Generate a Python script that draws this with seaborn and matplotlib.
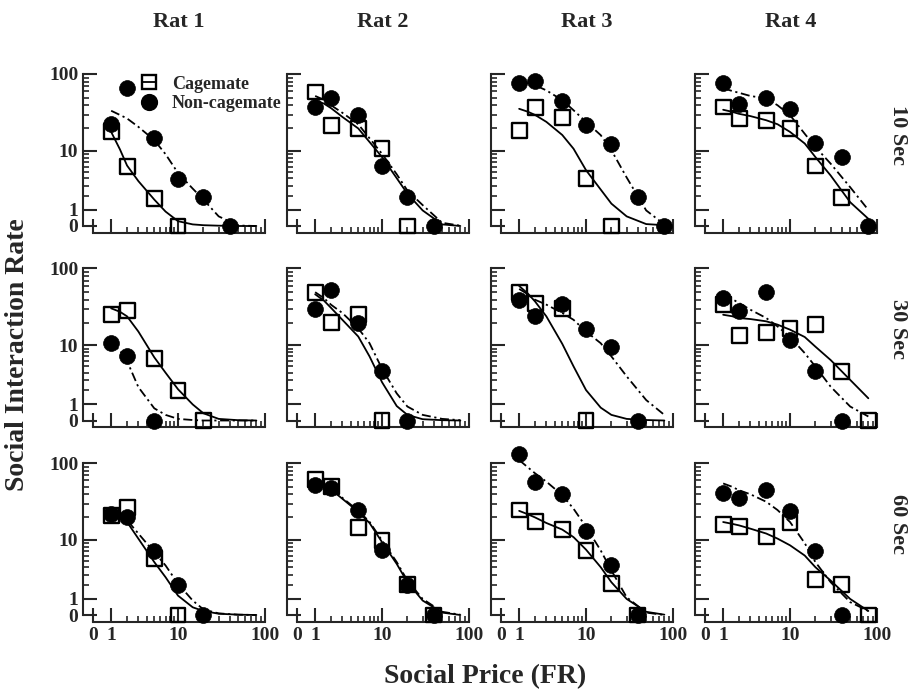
"""
Demand curves for social interaction: cagemate vs non-cagemate, 4 rats x 3 delays.
"""
import numpy as np
import pandas as pd
import matplotlib
matplotlib.use("Agg")
import matplotlib.pyplot as plt
from matplotlib.ticker import FixedLocator, FixedFormatter, NullFormatter
from matplotlib.lines import Line2D
import seaborn as sns

# -----------------------------
# data
# -----------------------------
RATS = ["Rat 1", "Rat 2", "Rat 3", "Rat 4"]
DELAYS = ["10 Sec", "30 Sec", "60 Sec"]

# FR steps used in the sessions; each series runs until responding stopped
FR_STEPS = [1, 2, 5, 10, 20, 40, 80]
# FR values at which the fitted curves were read
CURVE_FR = [1, 1.5, 2, 3, 5, 7, 10, 15, 20, 30, 50, 80]

# observed interaction rates, one list per rat
CAGE_10 = [[18, 6, 1.8, 0], [59, 22, 20, 10.7, 0],
           [19, 37, 28, 3.9, 0], [38, 27, 25.6, 20, 6.1, 1.9]]
NONCAGE_10 = [[23, 67, 15, 3.9, 1.9, 0], [38, 49, 30, 6.1, 1.9, 0],
              [76, 81, 46, 22, 12.6, 1.9, 0], [76, 42, 49, 36, 12.8, 8.2, 0]]
CAGE_30 = [[25.6, 29, 6.6, 2.0, 0], [49, 20, 26, 0],
           [50, 36, 31, 0], [35, 13.5, 15, 17, 19, 4.2, 0]]
NONCAGE_30 = [[10.7, 7, 0], [30, 53, 20, 4.3, 0],
              [40, 25, 35, 16.6, 9.6, 0], [42, 29, 51, 12, 4.2, 0]]
CAGE_60 = [[21, 27, 5.4, 0], [62, 50, 14.7, 9.9, 2.0, 0],
           [25, 17.8, 14, 7.1, 2.1, 0], [16, 15, 11, 17, 2.5, 2.0, 0]]
NONCAGE_60 = [[22, 20, 7, 2.0, 0], [52, 47.5, 25, 7.3, 2.0, 0],
              [130, 58, 40, 13, 4.4, 0], [41, 36, 45, 24, 7, 0]]

# fitted demand curves at CURVE_FR, one list per rat
FIT_CAGE_10 = [
    [18, 10.5, 6.2, 3.6, 1.7, 0.9, 0.3, 0.1, 0.05, 0.02, 0, 0],
    [46, 42, 36.7, 28.3, 20, 13.2, 8.2, 4.0, 2.2, 0.97, 0.1, 0],
    [36, 33, 30, 24.4, 16.4, 10.7, 5.3, 2.6, 1.4, 0.6, 0.12, 0.05],
    [35, 33, 31, 29, 25.6, 22.7, 18, 12.6, 8.2, 4.4, 1.5, 0.45],
]
FIT_NONCAGE_10 = [
    [34, 30, 27, 21, 14, 9, 4.8, 2.7, 1.7, 0.6, 0.03, 0],
    [52.6, 47, 40, 32, 22.7, 14.8, 9.1, 4.6, 2.5, 1.3, 0.2, 0.02],
    [80, 76, 72, 62, 46.5, 34.5, 24.4, 16.3, 10.2, 4.1, 0.97, 0.1],
    [66, 61, 57.7, 52.6, 48.9, 40, 29.8, 17, 11.3, 6.6, 2.85, 1.0],
]
FIT_CAGE_30 = [
    [31, 28, 24.4, 15.4, 6.8, 4.0, 2.1, 1.0, 0.45, 0.1, 0.02, 0],
    [47, 39, 31.4, 22, 13.2, 7, 2.8, 0.9, 0.35, 0.08, 0.02, 0],
    [60, 48, 38, 24.4, 10.5, 5.0, 2.03, 0.8, 0.35, 0.1, 0.03, 0],
    [25.6, 24.5, 23.2, 22.5, 21, 19, 16.3, 13, 9.6, 6.2, 3.06, 1.39],
]
FIT_NONCAGE_30 = [
    [10.7, 8.5, 6, 2.3, 0.76, 0.35, 0.1, 0.03, 0, 0, 0, 0],
    [50, 42, 34.5, 27, 17, 10.7, 4.6, 1.75, 0.87, 0.35, 0.1, 0.02],
    [55, 47, 40, 34.6, 27, 22, 15.4, 10.7, 7, 3.5, 1.27, 0.35],
    [46.5, 41, 36.3, 29.8, 23.2, 18, 13, 7.8, 4.96, 2.34, 0.87, 0.25],
]
FIT_CAGE_60 = [
    [22, 19.5, 17.4, 10.4, 4.8, 2.75, 1.2, 0.48, 0.25, 0.08, 0.02, 0],
    [57, 51, 46, 35, 23.7, 16.9, 9.3, 4.5, 2.24, 0.9, 0.15, 0],
    [24.4, 22, 20, 16.9, 13.8, 10.9, 7.3, 4, 2.24, 1.0, 0.2, 0.02],
    [17.4, 16.5, 15.7, 14.2, 12.2, 10.4, 8.4, 6, 4.0, 2.4, 1.0, 0.25],
]
FIT_NONCAGE_60 = [
    [22, 20.5, 18.4, 12.2, 6.7, 4.26, 2.1, 0.9, 0.35, 0.1, 0.02, 0],
    [58, 52, 47, 36, 24.5, 17.5, 9.8, 4.8, 2.4, 1.0, 0.2, 0.02],
    [109, 88, 74, 58, 39, 26, 15, 7.1, 3.55, 1.1, 0.15, 0],
    [55, 50, 45, 40, 32, 25, 17.4, 9, 4.8, 2.24, 0.8, 0.25],
]

TICK_VALUES = [0, 1, 10, 100]
TICK_LABELS = ["0", "1", "10", "100"]
MINOR_VALUES = [2, 3, 4, 5, 6, 7, 8, 9, 20, 30, 40, 50, 60, 70, 80, 90]


# -----------------------------
# long-form tables
# -----------------------------
def build_tables():
    obs, fit = [], []
    per_delay = {
        "10 Sec": (CAGE_10, NONCAGE_10, FIT_CAGE_10, FIT_NONCAGE_10),
        "30 Sec": (CAGE_30, NONCAGE_30, FIT_CAGE_30, FIT_NONCAGE_30),
        "60 Sec": (CAGE_60, NONCAGE_60, FIT_CAGE_60, FIT_NONCAGE_60),
    }
    for delay, (cage, non, fcage, fnon) in per_delay.items():
        for i, rat in enumerate(RATS):
            for group, vals in (("Cagemate", cage[i]), ("Non-cagemate", non[i])):
                for fr, v in zip(FR_STEPS, vals):
                    obs.append((delay, rat, group, fr, v))
            for group, vals in (("Cagemate", fcage[i]), ("Non-cagemate", fnon[i])):
                for fr, v in zip(CURVE_FR, vals):
                    fit.append((delay, rat, group, fr, v))
    cols = ["delay", "rat", "group", "fr", "rate"]
    return pd.DataFrame(obs, columns=cols), pd.DataFrame(fit, columns=cols)


# log(x + 1) axis with the zero squeezed in just below 1
G0 = 0.1
LOG2 = np.log10(2.0)


def fwd(v):
    v = np.asarray(v, dtype=float)
    lin = G0 + (LOG2 - G0) * v
    lg = np.log10(np.maximum(v, 1.0) + 1.0)
    return np.where(v >= 1.0, lg, lin)


def inv(g):
    g = np.asarray(g, dtype=float)
    lin = (g - G0) / (LOG2 - G0)
    lg = 10.0 ** np.clip(g, LOG2, 6) - 1.0
    return np.where(g >= LOG2, lg, lin)


def style_axis(ax, show_x, show_y):
    for scale in (ax.set_xscale, ax.set_yscale):
        scale("function", functions=(fwd, inv))
    ax.set_xlim(0, 100)
    ax.set_ylim(0, 100)
    for axis, show in ((ax.xaxis, show_x), (ax.yaxis, show_y)):
        axis.set_major_locator(FixedLocator(TICK_VALUES))
        axis.set_minor_locator(FixedLocator(MINOR_VALUES))
        axis.set_minor_formatter(NullFormatter())
        if show:
            axis.set_major_formatter(FixedFormatter(TICK_LABELS))
        else:
            axis.set_major_formatter(NullFormatter())
    ax.set_xlabel("")
    ax.set_ylabel("")
    ax.tick_params(which="major", direction="in", length=10, width=1.5,
                   labelsize=14, pad=3.5)
    ax.tick_params(which="minor", direction="in", length=4.5, width=1.2)
    for sp in ("left", "bottom"):
        ax.spines[sp].set_linewidth(1.5)
    sns.despine(ax=ax, offset={"left": 7, "bottom": 5})


DASHDOT = (5, 2, 1.2, 2)


def main():
    sns.set_style("ticks")
    plt.rcParams["font.family"] = ["Liberation Serif", "DejaVu Serif"]
    plt.rcParams["font.weight"] = "bold"

    obs, fit = build_tables()

    fig = plt.figure(figsize=(9.12, 6.91), dpi=100)
    W, H = 912.0, 691.0
    left0, col_step, ax_w = 93, 204, 172
    top0, row_step, ax_h = 74, 194.5, 152

    for r, delay in enumerate(DELAYS):
        for c, rat in enumerate(RATS):
            top = top0 + r * row_step
            ax = fig.add_axes([(left0 + c * col_step) / W, 1 - (top + ax_h) / H,
                               ax_w / W, ax_h / H])
            f = fit[(fit.delay == delay) & (fit.rat == rat)]
            o = obs[(obs.delay == delay) & (obs.rat == rat)]

            sns.lineplot(data=f, x="fr", y="rate", style="group",
                         style_order=["Cagemate", "Non-cagemate"],
                         dashes={"Cagemate": "", "Non-cagemate": DASHDOT},
                         color="black", linewidth=1.3, estimator=None,
                         sort=False, legend=False, clip_on=False, ax=ax)
            sns.scatterplot(data=o[o.group == "Cagemate"], x="fr", y="rate",
                            marker="s", s=115, facecolor="none",
                            edgecolor="black", linewidth=1.7, clip_on=False,
                            legend=False, ax=ax, zorder=3)
            sns.scatterplot(data=o[o.group == "Non-cagemate"], x="fr", y="rate",
                            marker="o", s=130, color="black", edgecolor="black",
                            linewidth=0.5, clip_on=False, legend=False,
                            ax=ax, zorder=4)

            style_axis(ax, show_x=(r == 2), show_y=(c == 0))

            if r == 0 and c == 0:
                handles = [
                    Line2D([0], [0], color="black", lw=1.3, marker="s", ms=10.7,
                           mfc="none", mew=1.7),
                    Line2D([0], [0], color="black", lw=1.3, marker="o", ms=11.4,
                           linestyle=(0, DASHDOT)),
                ]
                ax.legend(handles, ["Cagemate", "Non-cagemate"],
                          loc="upper left", bbox_to_anchor=(0.285, 0.99),
                          frameon=False, handlelength=0.8, handletextpad=0.85,
                          labelspacing=0.15, borderpad=0, borderaxespad=0,
                          prop={"family": "Liberation Serif", "weight": "bold",
                                "size": 13})
            if r == 0:
                fig.text((left0 + c * col_step + ax_w / 2) / W, 1 - 22 / H, rat,
                         ha="center", va="center", fontsize=16,
                         fontweight="bold")
            if c == 3:
                fig.text(898 / W, 1 - (top + ax_h * 0.4) / H, delay,
                         rotation=270, ha="center", va="center",
                         fontsize=16, fontweight="bold")

    fig.text(18 / W, 1 - 355 / H, "Social Interaction Rate", rotation=90,
             ha="center", va="center", fontsize=20, fontweight="bold")
    fig.text(485 / W, 1 - 677 / H, "Social Price (FR)", ha="center",
             va="center", fontsize=20, fontweight="bold")

    fig.savefig("out.png", dpi=100)


if __name__ == "__main__":
    main()
